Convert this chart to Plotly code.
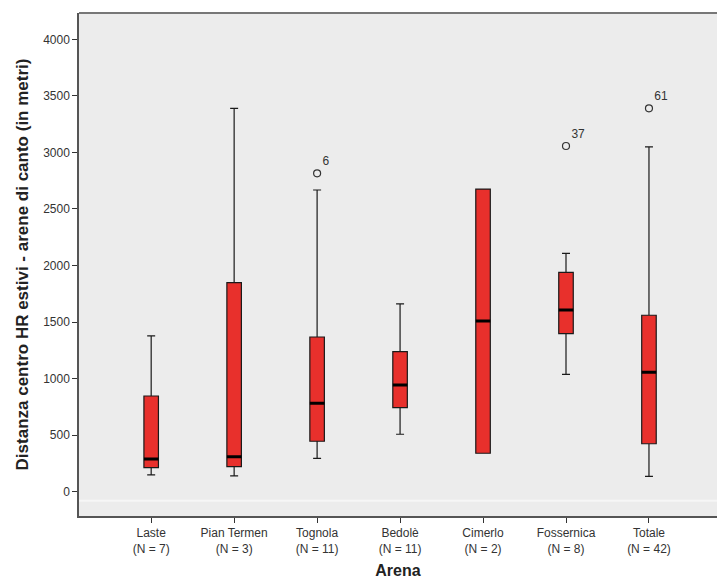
import plotly.graph_objects as go

categories = ["Laste", "Pian Termen", "Tognola", "Bedolè", "Cimerlo", "Fossernica", "Totale"]
n_counts = [7, 3, 11, 11, 2, 8, 42]
lower_whisker = [148, 139, 295, 508, 340, 1038, 136]
q1 = [212, 221, 446, 743, 340, 1397, 424]
median = [289, 309, 782, 943, 1509, 1607, 1056]
q3 = [846, 1848, 1368, 1238, 2676, 1940, 1560]
upper_whisker = [1377, 3390, 2668, 1660, 2676, 2108, 3050]

outlier_cats = ["Tognola", "Fossernica", "Totale"]
outlier_vals = [2815, 3057, 3390]
outlier_ids = ["6", "37", "61"]

tick_labels = [f"{c}<br>(N = {n})" for c, n in zip(categories, n_counts)]

FONT = "Liberation Sans, Arial, sans-serif"

fig = go.Figure()
fig.add_trace(go.Box(
    x=categories, q1=q1, median=median, q3=q3,
    lowerfence=lower_whisker, upperfence=upper_whisker,
    fillcolor="#e8302c", line=dict(color="#1a1a1a", width=1.2),
    whiskerwidth=0.55, boxpoints=False, showlegend=False, hoverinfo="skip",
))
# thick median bars
fig.add_trace(go.Box(
    x=categories, q1=median, median=median, q3=median,
    lowerfence=median, upperfence=median,
    fillcolor="rgba(0,0,0,0)", line=dict(color="#000000", width=3),
    whiskerwidth=0, boxpoints=False, showlegend=False, hoverinfo="skip",
))
fig.add_trace(go.Scatter(
    x=outlier_cats, y=outlier_vals, mode="markers+text",
    text=outlier_ids, textposition="top right",
    textfont=dict(family=FONT, size=12, color="#333333"),
    marker=dict(symbol="circle-open", size=7, color="#333333", line=dict(width=1.2)),
    showlegend=False, hoverinfo="skip", cliponaxis=False,
))

fig.update_layout(
    width=720, height=580,
    margin=dict(l=79, r=3, t=13, b=64),
    paper_bgcolor="white", plot_bgcolor="#ececec",
    boxmode="overlay", boxgap=0.75,
    font=dict(family=FONT, color="#333333"),
)
fig.update_xaxes(
    type="category", categoryorder="array", categoryarray=categories,
    tickmode="array", tickvals=categories, ticktext=tick_labels,
    tickfont=dict(size=12, color="#333333"),
    ticks="outside", ticklen=5, tickcolor="#333333",
    showline=True, linecolor="#555555", linewidth=1.5, mirror=False,
    showgrid=False, zeroline=False,
    range=[-0.87, 6.82],
    title=dict(text="<b>Arena</b>", font=dict(size=16, color="#222222"), standoff=10),
)
fig.update_yaxes(
    range=[-215, 4233],
    tickmode="array", tickvals=list(range(0, 4001, 500)),
    tickfont=dict(size=12, color="#333333"),
    ticks="outside", ticklen=5, tickcolor="#333333",
    showline=True, linecolor="#555555", linewidth=1.5,
    showgrid=False, zeroline=False,
    title=dict(text="<b>Distanza centro HR estivi - arene di canto (in metri)</b>",
               font=dict(size=17, color="#222222"), standoff=10),
)
fig.add_shape(type="line", xref="paper", yref="paper", x0=0, x1=1, y0=1, y1=1,
              line=dict(color="#777777", width=2))
fig.add_shape(type="line", xref="paper", yref="y", x0=0, x1=1, y0=-80, y1=-80,
              line=dict(color="#f6f6f6", width=2), layer="below")

fig.write_html("out.html")
